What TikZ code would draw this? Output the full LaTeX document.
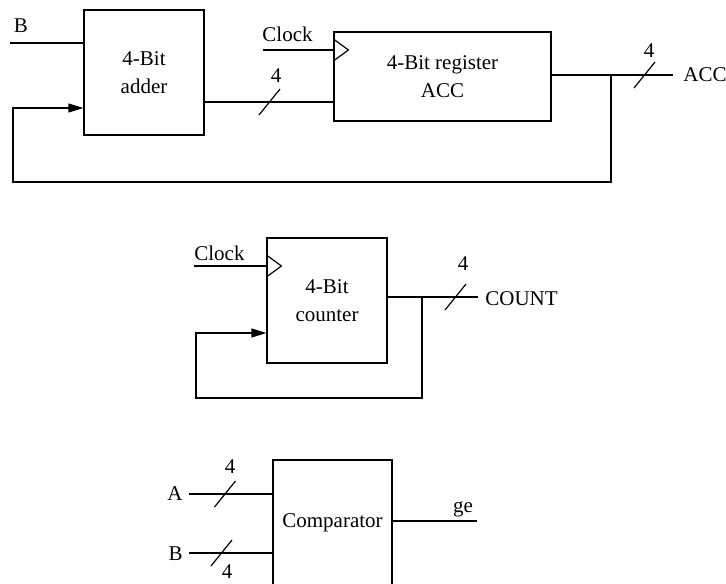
\documentclass[tikz,border=0pt]{standalone}
\usepackage{fontspec}
\setmainfont{Liberation Serif}
\usetikzlibrary{calc,arrows.meta}
\newcommand{\BusSlash}[1]{\draw[wire] (#1) ++(-10.5,13) -- ++(21,-26);}
\newcommand{\ClkMark}[1]{\draw[wire] (#1) ++(0,-11) -- ++(15,11) -- ++(-15,11);}

\begin{document}
\begin{tikzpicture}[x=0.5pt,y=-0.5pt,
  wire/.style={line width=0.6pt},
  blockbox/.style={draw,line width=0.6pt,rectangle,minimum width=60pt,minimum height=62.5pt,inner sep=0pt,align=center,font=\fontsize{10.5}{14}\selectfont},
  lbl/.style={inner sep=0pt,anchor=base,font=\fontsize{10.5}{12}\selectfont},
  fb/.style={wire,-{Triangle[length=7.5pt,width=4.5pt]}}]
\useasboundingbox (0,0) rectangle (726,583);
% accumulator
\node[blockbox] (adder) at (144,72.5) {4-Bit\\adder};
\node[blockbox,minimum width=108.5pt,minimum height=44.5pt] (reg) at (442.5,76.5) {4-Bit register\\ACC};
\coordinate (bin) at (10,43);
\coordinate (clk1) at (263,50);
\coordinate (s1) at (269.5,102);
\coordinate (j1) at (611,75);
\coordinate (s2) at (644.5,75);
\coordinate (accout) at (673,75);
\coordinate (fb1) at (13,182);
\coordinate (fbin1) at (13,108);
\draw[wire] (bin) -- (adder.west |- bin);
\draw[wire] (clk1) -- (reg.west |- clk1);
\ClkMark{reg.west |- clk1}
\draw[wire] (adder.east |- s1) -- (reg.west |- s1);
\BusSlash{s1}
\draw[wire] (reg.east |- j1) -- (accout);
\BusSlash{s2}
\draw[fb] (j1) |- (fb1) -- (fbin1) -- (adder.west |- fbin1);
\node[lbl] (lb1) at (21,33) {B};
\node[lbl,anchor=base west] (lclk1) at (262,42) {Clock};
\node[lbl] (n1) at (276,83) {4};
\node[lbl] (n2) at (649,58) {4};
\node[lbl,anchor=base west] (lacc) at (683,82) {ACC};
% counter
\node[blockbox] (cnt) at (327,300.5) {4-Bit\\counter};
\coordinate (clk2) at (194,266);
\coordinate (j2) at (422,297);
\coordinate (s3) at (455.5,297);
\coordinate (cntout) at (478,297);
\coordinate (fb2) at (196,398);
\coordinate (fbin2) at (196,333);
\draw[wire] (clk2) -- (cnt.west |- clk2);
\ClkMark{cnt.west |- clk2}
\draw[wire] (cnt.east |- j2) -- (cntout);
\BusSlash{s3}
\draw[fb] (j2) |- (fb2) -- (fbin2) -- (cnt.west |- fbin2);
\node[lbl,anchor=base west] (lclk2) at (194,260) {Clock};
\node[lbl] (n3) at (463,270) {4};
\node[lbl,anchor=base west] (lcnt) at (485,305) {COUNT};
% comparator
\node[blockbox,minimum width=59.5pt] (cmp) at (332.5,522.5) {Comparator};
\coordinate (ain) at (189,494);
\coordinate (s4) at (225,494);
\coordinate (bin2) at (189,553);
\coordinate (s5) at (221.5,553);
\coordinate (geout) at (477,521);
\draw[wire] (ain) -- (cmp.west |- ain);
\BusSlash{s4}
\draw[wire] (bin2) -- (cmp.west |- bin2);
\BusSlash{s5}
\draw[wire] (cmp.east |- geout) -- (geout);
\node[lbl,anchor=base east] (la) at (183,500) {A};
\node[lbl,anchor=base east] (lb2) at (183,560) {B};
\node[lbl] (n4) at (230,473) {4};
\node[lbl] (n5) at (227,578) {4};
\node[lbl] (lge) at (463,512) {ge};
\end{tikzpicture}
\end{document}
